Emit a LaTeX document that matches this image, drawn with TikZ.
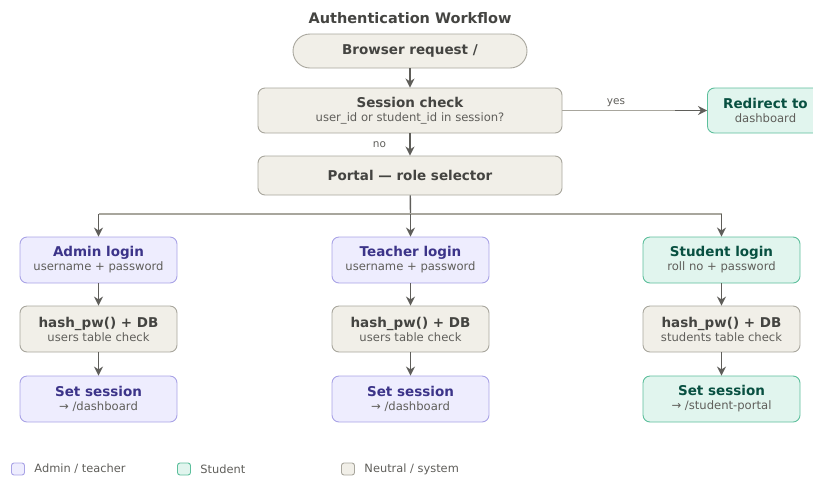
\documentclass[tikz,border=0pt]{standalone}
\usepackage{fontspec}
\setmainfont{DejaVu Sans}
\usetikzlibrary{positioning, arrows.meta, calc}
\definecolor{ink}{HTML}{5f5e5a}
\definecolor{line}{HTML}{a8a69d}
\definecolor{neutral}{HTML}{f1efe8}
\definecolor{neutralink}{HTML}{444441}
\definecolor{staff}{HTML}{eeedfe}
\definecolor{staffline}{HTML}{a9a3e6}
\definecolor{staffink}{HTML}{3c3489}
\definecolor{pupil}{HTML}{e1f5ee}
\definecolor{pupilline}{HTML}{5dbf9c}
\definecolor{pupilink}{HTML}{085041}
\newcommand{\sub}[1]{\\[-1pt]{\fontsize{11.6}{13}\selectfont\mdseries\color{ink}#1}}

\begin{document}
\begin{tikzpicture}[x=1pt, y=-1pt, font=\fontsize{13.5}{15}\selectfont\bfseries,
  n/.style={draw=line, line width=0.9pt, rounded corners=7pt, fill=neutral, text=neutralink, minimum width=304pt, minimum height=45pt, align=center, inner sep=0pt},
  st/.style={draw=staffline, line width=0.9pt, rounded corners=7pt, fill=staff, text=staffink, minimum width=157pt, minimum height=46pt, align=center, inner sep=0pt},
  pu/.style={draw=pupilline, line width=0.9pt, rounded corners=7pt, fill=pupil, text=pupilink, minimum width=157pt, minimum height=46pt, align=center, inner sep=0pt},
  nh/.style={n, minimum width=157pt, minimum height=46pt},
  arr/.style={-{Stealth[length=9pt, width=9pt]}, line width=1.4pt, ink},
  key/.style={line width=0.9pt, rounded corners=2.5pt, minimum width=13pt, minimum height=12pt, inner sep=0pt},
  keytxt/.style={font=\fontsize{11.4}{13}\selectfont, text=ink, anchor=west}
]
  \useasboundingbox (0,0) rectangle (813,488);
  \clip (0,0) rectangle (813,488);

  \node[font=\fontsize{14.5}{16}\selectfont\bfseries, text=neutralink] (title) at (410,18) {Authentication Workflow};

  \node[n, rounded corners=17pt, minimum width=234pt, minimum height=34pt] (brw) at (410,51) {Browser request /};
  \node[n] (chk) at (410,110.5) {Session check\sub{user\_id or student\_id in session?}};
  \node[pu, minimum width=116pt, minimum height=45pt, anchor=west] (redir) at (707,110.5) {Redirect to\sub{dashboard}};
  \node[n, minimum height=39pt] (portal) at (410,175.5) {Portal --- role selector};

  \node[st] (adm) at (98.5,260) {Admin login\sub{username + password}};
  \node[st] (tch) at (410.5,260) {Teacher login\sub{username + password}};
  \node[pu] (stu) at (721.5,260) {Student login\sub{roll no + password}};

  \node[nh] (admh) at (98.5,329) {hash\_pw() + DB\sub{users table check}};
  \node[nh] (tchh) at (410.5,329) {hash\_pw() + DB\sub{users table check}};
  \node[nh] (stuh) at (721.5,329) {hash\_pw() + DB\sub{students table check}};

  \node[st] (adms) at (98.5,399) {Set session\sub{→ /dashboard}};
  \node[st] (tchs) at (410.5,399) {Set session\sub{→ /dashboard}};
  \node[pu] (stus) at (721.5,399) {Set session\sub{→ /student-portal}};

  \draw[arr] (brw) -- (chk);
  \draw[arr] (chk) -- node[left=20pt, font=\fontsize{10.5}{12}\selectfont\mdseries, text=ink] {no} (portal);
  \draw[line, line width=1.2pt] (chk) -- node[above, pos=0.37, font=\fontsize{10.5}{12}\selectfont\mdseries, text=ink] {yes} (redir);
  \draw[arr] ($(redir.west)+(-32,0)$) -- (redir);

  % bus from portal to the three logins
  \coordinate (bus) at (410.5,214);
  \draw[ink, line width=1.4pt] (portal) -- (bus);
  \draw[line, line width=1.2pt] (adm.north |- bus) -- (stu.north |- bus);
  \foreach \a in {adm, tch, stu}
    \draw[arr] (\a.north |- bus) -- (\a);

  \foreach \a/\b in {adm/admh, admh/adms, tch/tchh, tchh/tchs, stu/stuh, stuh/stus}
    \draw[arr] (\a) -- (\b);

  % legend
  \node[key, draw=staffline, fill=staff] (k1) at (18,469) {};
  \node[keytxt, right=6pt of k1] (k1t) {Admin / teacher};
  \node[key, draw=pupilline, fill=pupil] (k2) at (184,469) {};
  \node[keytxt, right=6pt of k2] (k2t) {Student};
  \node[key, draw=line, fill=neutral] (k3) at (348,469) {};
  \node[keytxt, right=6pt of k3] (k3t) {Neutral / system};
\end{tikzpicture}
\end{document}
